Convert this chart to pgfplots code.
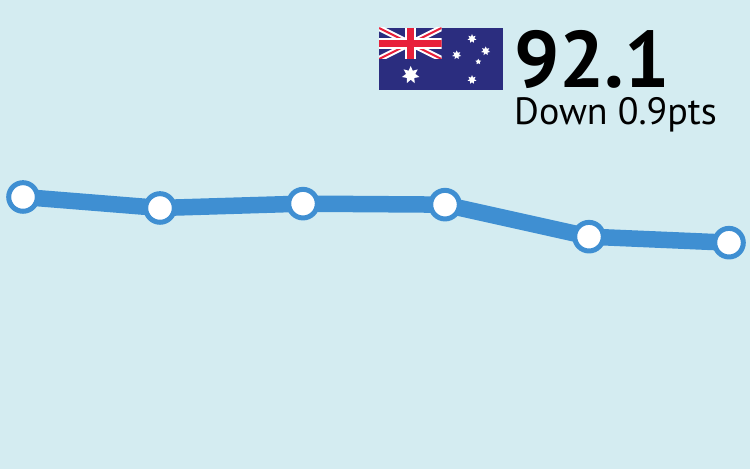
\documentclass[border=0pt]{standalone}
\usepackage{fontspec}
\setmainfont{PT Sans}
\usepackage{pgfplots}
\pgfplotsset{compat=1.18}
\usetikzlibrary{shapes.geometric}
\definecolor{bg}{HTML}{D4ECF1}
\definecolor{linecol}{HTML}{3F8FD2}
\definecolor{flagblue}{HTML}{2B2D7F}
\definecolor{flagred}{HTML}{E8203A}
\begin{document}
\begin{tikzpicture}[x=1pt,y=1pt]
\path[use as bounding box,fill=bg] (0,0) rectangle (750,469);
\begin{axis}[
    at={(0,0)}, anchor=south west,
    scale only axis, width=750pt, height=469pt,
    hide axis, clip=false,
    xmin=0, xmax=750,
    ymin=58.07, ymax=128.38
]
\addplot[linecol, line width=16.5pt, line join=round,
    mark=*, mark size=14.3pt,
    mark options={draw=linecol, fill=white, line width=5pt}] coordinates {
    (23, 98.85) (160, 97.2) (303, 97.85) (445, 97.7) (589, 92.9) (729, 92.0)
};
\end{axis}
% flag, in picture pixels from the top left
\begin{scope}[shift={(0,469)},yscale=-1]
\fill[flagblue] (379,28) rectangle (503,90);
\begin{scope}
\clip (379,28) rectangle (441.5,59);
\draw[white,line width=6pt] (379,28) -- (441.5,59) (379,59) -- (441.5,28);
\draw[flagred,line width=2pt] (379,28) -- (441.5,59) (379,59) -- (441.5,28);
\draw[white,line width=10.5pt] (410.25,28) -- (410.25,59) (379,43.5) -- (441.5,43.5);
\draw[flagred,line width=7pt] (410.25,28) -- (410.25,59) (379,43.5) -- (441.5,43.5);
\end{scope}
\foreach \px/\py/\r/\n in {410.7/75/9/7,472/38.7/4.6/7,485.7/51/4.6/7,456.7/55/4.6/7,472/79.7/4.6/7,478.3/61.7/3/5}
  \node[star,star points=\n,star point ratio=1.9,fill=white,inner sep=0pt,minimum size=2*\r pt] at (\px,\py) {};
\end{scope}
\node[anchor=base west,inner sep=0pt,font=\fontsize{80}{80}\selectfont\bfseries] at (514,469-87.5) {92.1};
\node[anchor=base west,inner sep=0pt,font=\fontsize{38}{38}\selectfont] at (514,469-124.5) {Down 0.9pts};
\end{tikzpicture}
\end{document}
